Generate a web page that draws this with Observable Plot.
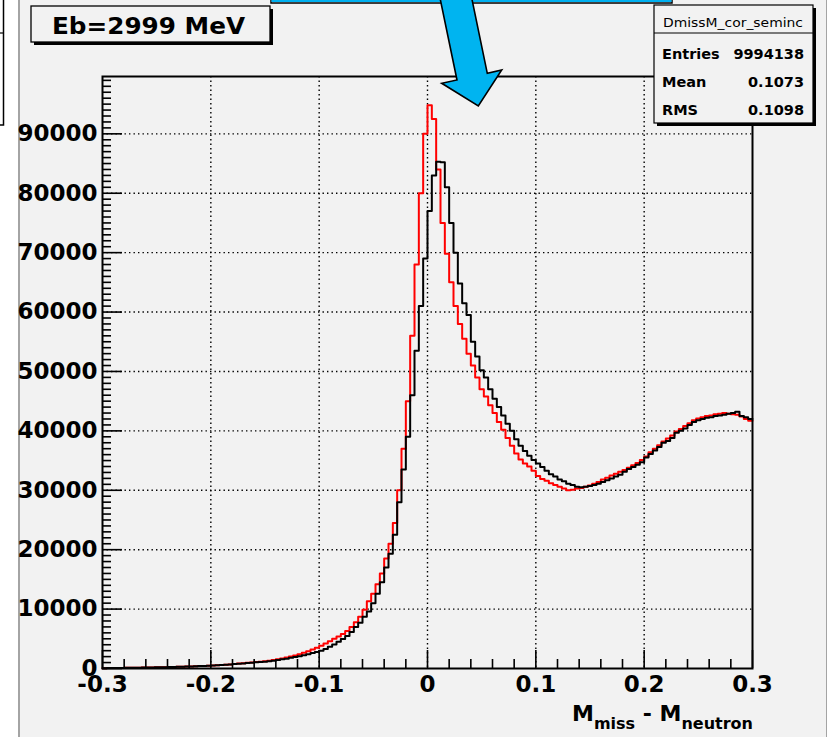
<!DOCTYPE html>
<html><head><meta charset="utf-8">
<script src="https://cdn.jsdelivr.net/npm/d3@7"></script>
<script src="https://cdn.jsdelivr.net/npm/@observablehq/plot@0.6"></script>
<style>
html,body{margin:0;padding:0;background:#fff;}
#wrap{position:relative;width:827px;height:737px;overflow:hidden;background:#fff;}
#canvasbg{position:absolute;left:18px;top:0;width:806px;height:737px;background:#f2f2f2;border-left:2px solid #a4a4a4;border-right:1px solid #a4a4a4;}
#chart{position:absolute;left:0;top:0;}
#overlay{position:absolute;left:0;top:0;pointer-events:none;}
</style></head>
<body><div id="wrap"><div id="canvasbg"></div><div id="chart"></div><svg id="overlay" width="827" height="737"></svg></div>
<script>
// histogram binning: 150 bins from -0.3 to 0.3
const binLow = -0.3;
const binWidth = 0.004;

// black histogram (DmissM_cor_seminc)
const blackCounts = [
  60,70,80,90,100,110,120,130,140,150,
  160,180,190,210,220,240,260,280,300,320,
  350,380,410,440,470,510,550,590,640,690,
  740,800,860,920,980,1040,1080,1130,1220,1320,
  1430,1540,1660,1790,1930,2080,2240,2410,2590,2780,
  2990,3300,3650,4050,4500,4950,5450,6150,7000,7700,
  8700,9600,11000,12600,14500,17000,19300,22500,28000,33500,
  39000,46000,53500,61000,69000,77000,83000,85300,85200,81000,
  75000,70000,64800,61500,59500,55000,52500,50200,49000,47000,
  45400,44000,42600,41200,40000,38600,37500,36600,35800,35100,
  34500,33900,33300,32700,32300,31800,31500,31100,30900,30600,
  30500,30600,30700,30900,31100,31400,31700,32000,32300,32600,
  33100,33600,33900,34300,34700,35500,36100,36700,37300,38000,
  38300,38800,39700,40000,40400,41000,41500,41800,42000,42200,
  42300,42500,42600,42700,42900,43000,43200,42500,42300,42000
];

// red histogram
const redCounts = [
  60,70,80,90,100,110,120,130,140,150,
  160,180,190,210,220,240,260,280,300,320,
  350,380,410,440,470,510,550,590,640,690,
  760,840,900,960,1020,1080,1140,1200,1300,1420,
  1550,1690,1850,2020,2200,2400,2650,2900,3200,3500,
  3850,4200,4600,5000,5400,5800,6300,7000,7800,8700,
  9900,11300,12600,14200,16000,18500,21000,24500,30000,37000,
  45000,56000,68000,80000,90000,94800,92500,84000,75000,69800,
  65000,61000,58000,55500,53000,51000,49000,47000,45800,44300,
  43000,41500,40200,38800,37500,36200,35200,34500,34000,33300,
  32400,31900,31600,31200,30900,30600,30300,30000,30100,30300,
  30400,30600,30800,31100,31400,31800,32100,32500,32800,33100,
  33400,33800,34200,34600,35100,35700,36400,37000,37600,38200,
  38700,39200,39900,40300,40800,41300,41800,42100,42300,42500,
  42600,42800,42900,43000,42900,42800,42700,42400,42000,41700
];

const xTickValues = [-0.3,-0.2,-0.1,0,0.1,0.2,0.3];
const xTickLabels = ["-0.3","-0.2","-0.1","0","0.1","0.2","0.3"];
const yTickValues = [0,10000,20000,30000,40000,50000,60000,70000,80000,90000];
const yTickLabels = ["0","10000","20000","30000","40000","50000","60000","70000","80000","90000"];
const yMax = 99650;

const titleText = "Eb=2999 MeV";
const histName = "DmissM_cor_seminc";
const statsLabels = ["Entries","Mean","RMS"];
const statsValues = ["9994138","0.1073","0.1098"];

function stepPoints(counts) {
  const pts = counts.map((c, i) => ({x: binLow + i * binWidth, y: c}));
  pts.push({x: binLow + counts.length * binWidth, y: counts[counts.length - 1]});
  return pts;
}
const blackSteps = stepPoints(blackCounts);
const redSteps = stepPoints(redCounts);

const xMinor = d3.range(-30, 31, 2).filter(i => i % 10 !== 0).map(i => i / 100);
const yMinor = d3.range(0, 100000, 1000).filter(v => v % 10000 !== 0 && v <= yMax);

const FONT = "DejaVu Sans";
const dotted = {stroke: "#000", strokeWidth: 1.4, strokeDasharray: "1.4,3.1"};

const chart = Plot.plot({
  width: 827,
  height: 737,
  marginLeft: 102,
  marginRight: 75,
  marginTop: 76,
  marginBottom: 69,
  style: {background: "transparent", overflow: "visible", fontFamily: FONT},
  x: {domain: [-0.3, 0.3], axis: null},
  y: {domain: [0, yMax], axis: null},
  marks: [
    Plot.ruleX(xTickValues.slice(1, -1), dotted),
    Plot.ruleY(yTickValues.slice(1), dotted),
    Plot.line(redSteps, {x: "x", y: "y", curve: "step-after", stroke: "#ff0000", strokeWidth: 2}),
    Plot.line(blackSteps, {x: "x", y: "y", curve: "step-after", stroke: "#000", strokeWidth: 2}),
    Plot.ruleX(xMinor, {y1: 0, y2: 0, insetBottom: 9, stroke: "#000", strokeWidth: 1.6}),
    Plot.ruleX(xTickValues, {y1: 0, y2: 0, insetBottom: 18, stroke: "#000", strokeWidth: 1.6}),
    Plot.ruleY(yMinor, {x1: -0.3, x2: -0.3, insetLeft: 9, stroke: "#000", strokeWidth: 1.6}),
    Plot.ruleY(yTickValues, {x1: -0.3, x2: -0.3, insetLeft: 20, stroke: "#000", strokeWidth: 1.6}),
    Plot.frame({stroke: "#000", strokeWidth: 2}),
    Plot.text(xTickValues, {x: d => d, text: (d, i) => xTickLabels[i], frameAnchor: "bottom", lineAnchor: "top", dy: 7,
      fontFamily: FONT, fontWeight: "bold", fontSize: 23, fill: "#000"}),
    Plot.text(yTickValues, {y: d => d, text: (d, i) => yTickLabels[i], frameAnchor: "left", textAnchor: "end", dx: -5,
      fontFamily: FONT, fontWeight: "bold", fontSize: 23, fill: "#000"})
  ]
});
document.getElementById("chart").appendChild(chart);

// ---- annotations overlay ----
const ov = d3.select("#overlay");
// partial pad on the far left
ov.append("rect").attr("x", -10).attr("y", -5).attr("width", 13.5).attr("height", 130)
  .attr("fill", "#fff").attr("stroke", "#000").attr("stroke-width", 1.5);
ov.append("line").attr("x1", 0).attr("x2", 3.5).attr("y1", 33).attr("y2", 33).attr("stroke", "#000").attr("stroke-width", 1.2);

// blue box at the top (cut off)
ov.append("rect").attr("x", 271).attr("y", -20).attr("width", 401).attr("height", 23)
  .attr("fill", "#fff").attr("stroke", "#000").attr("stroke-width", 1.5);
ov.append("rect").attr("x", 273).attr("y", -20).attr("width", 397).attr("height", 20.5)
  .attr("fill", "none").attr("stroke", "#00b0f0").attr("stroke-width", 3);

// arrow
ov.append("polygon")
  .attr("points", "440,-2 457,80 441.7,83.3 478.3,106 501.7,70 487.3,73.3 471.7,-2")
  .attr("fill", "#00b4f0").attr("stroke", "#000").attr("stroke-width", 1.6).attr("stroke-linejoin", "miter");

// title box
ov.append("rect").attr("x", 34).attr("y", 9).attr("width", 239).attr("height", 36).attr("fill", "#000");
ov.append("rect").attr("x", 31).attr("y", 6).attr("width", 239).attr("height", 36)
  .attr("fill", "#f2f2f2").attr("stroke", "#000").attr("stroke-width", 1.3);
ov.append("text").attr("x", 148.5).attr("y", 33.5).attr("text-anchor", "middle")
  .attr("font-family", FONT).attr("font-weight", "bold").attr("font-size", 23)
  .attr("textLength", 193).attr("lengthAdjust", "spacingAndGlyphs").text(titleText);

// stats box
ov.append("rect").attr("x", 657).attr("y", 8).attr("width", 159).attr("height", 118).attr("fill", "#000");
ov.append("rect").attr("x", 654).attr("y", 5).attr("width", 159).attr("height", 118)
  .attr("fill", "#f2f2f2").attr("stroke", "#000").attr("stroke-width", 1.2);
ov.append("line").attr("x1", 654).attr("x2", 813).attr("y1", 33).attr("y2", 33).attr("stroke", "#000").attr("stroke-width", 1.2);
ov.append("text").attr("x", 733).attr("y", 26.5).attr("text-anchor", "middle")
  .attr("font-family", FONT).attr("font-size", 13)
  .attr("textLength", 140).attr("lengthAdjust", "spacingAndGlyphs").text(histName);
const rowY = [59, 87.3, 115.3];
statsLabels.forEach((lab, i) => {
  ov.append("text").attr("x", 662).attr("y", rowY[i]).attr("font-family", FONT).attr("font-weight", "bold")
    .attr("font-size", 14.5).text(lab);
  ov.append("text").attr("x", 804).attr("y", rowY[i]).attr("text-anchor", "end").attr("font-family", FONT)
    .attr("font-weight", "bold").attr("font-size", 14.5).text(statsValues[i]);
});

// x-axis title with subscripts
const xt = ov.append("text").attr("x", 753).attr("y", 721).attr("text-anchor", "end")
  .attr("font-family", FONT).attr("font-weight", "bold").attr("font-size", 22).attr("fill", "#000");
xt.append("tspan").text("M");
xt.append("tspan").attr("font-size", 16).attr("dy", 8).text("miss");
xt.append("tspan").attr("dy", -8).text(" - M");
xt.append("tspan").attr("font-size", 16).attr("dy", 8).text("neutron");
</script>
</body></html>
